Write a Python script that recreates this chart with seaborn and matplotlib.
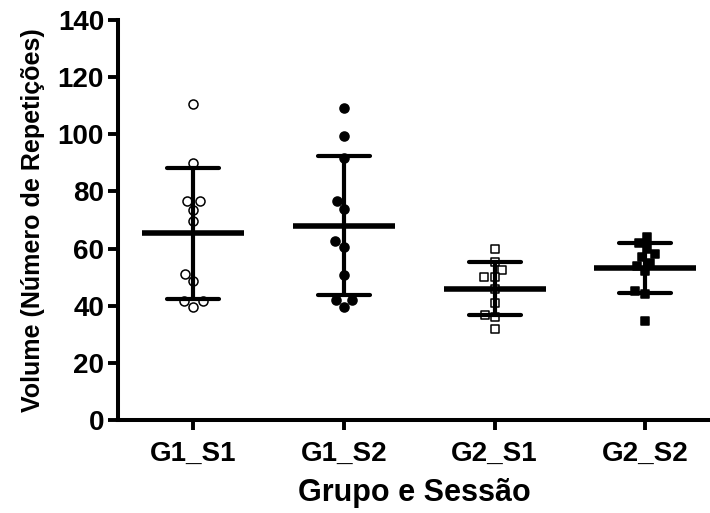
import pandas as pd
import numpy as np
import matplotlib
matplotlib.use("Agg")
import matplotlib.pyplot as plt
import seaborn as sns

# ================= DATA =================
groups = ["G1_S1", "G1_S2", "G2_S1", "G2_S2"]
g1_s1 = [110.5, 90, 76.5, 76.5, 73.5, 69.5, 51, 48.5, 41.5, 41.5, 39.5]
g1_s2 = [109.3, 99.5, 91.7, 76.6, 73.7, 62.6, 60.6, 50.8, 41.9, 41.9, 39.4]
g2_s1 = [59.8, 55.2, 52.5, 50.2, 50.2, 45.9, 40.9, 36.9, 35.9, 31.7]
g2_s2 = [64, 62, 60, 58, 57, 55, 54, 52, 45, 44, 34.5]
y_ticks = [0, 20, 40, 60, 80, 100, 120, 140]

values = [g1_s1, g1_s2, g2_s1, g2_s2]
df = pd.DataFrame({
    "grupo": np.repeat(groups, [len(v) for v in values]),
    "volume": np.concatenate(values),
})

# marker style per group: (marker, filled)
styles = {
    "G1_S1": ("o", False),
    "G1_S2": ("o", True),
    "G2_S1": ("s", False),
    "G2_S2": ("s", True),
}

# ================= PLOT =================
sns.set_style("ticks", rc={
    "text.color": "black",
    "axes.labelcolor": "black",
    "xtick.color": "black",
    "ytick.color": "black",
    "axes.edgecolor": "black",
})
plt.rcParams["font.family"] = ["Liberation Sans", "DejaVu Sans"]
plt.rcParams["font.weight"] = "bold"

fig = plt.figure(figsize=(7.1, 5.13), dpi=100)
ax = fig.add_axes([0.1662, 0.1813, 0.8338, 0.7797])

for g in groups:
    mk, filled = styles[g]
    sub = df[df["grupo"] == g]
    sns.swarmplot(
        data=sub, x="grupo", y="volume", order=groups, ax=ax,
        marker=mk, size=6.5 if mk == "o" else 6,
        color="black" if filled else "white",
        edgecolor="black", linewidth=1.1, zorder=2,
    )

# mean +/- SD
sns.pointplot(
    data=df, x="grupo", y="volume", order=groups, ax=ax,
    errorbar="sd", capsize=0.345, color="black",
    marker="_", markersize=74, markeredgewidth=4,
    linestyle="none", err_kws={"linewidth": 3},
)

ax.set_ylim(0, 140)
ax.set_xlim(-0.5, 3.43)
ax.set_yticks(y_ticks)
ax.set_xlabel("Grupo e Sessão", fontsize=22, fontweight="bold", labelpad=8)
ax.set_ylabel("Volume (Número de Repetições)", fontsize=18, fontweight="bold", labelpad=9)
ax.tick_params(axis="both", labelsize=20, width=2.8, length=7, color="black")
ax.tick_params(axis="x", pad=8)
ax.tick_params(axis="y", pad=3)
for lbl in ax.get_xticklabels() + ax.get_yticklabels():
    lbl.set_fontweight("bold")

sns.despine(ax=ax)
for side in ["left", "bottom"]:
    ax.spines[side].set_linewidth(2.9)
    ax.spines[side].set_color("black")

fig.savefig("out.png", dpi=100)
